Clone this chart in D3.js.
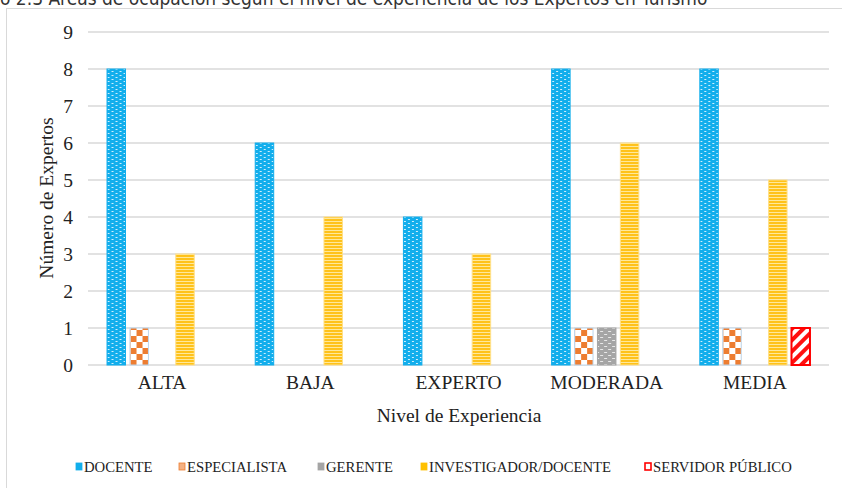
<!DOCTYPE html>
<html><head><meta charset="utf-8">
<script src="https://cdn.jsdelivr.net/npm/d3@7"></script>
<style>body{margin:0;background:#fff;overflow:hidden}svg{display:block}</style>
</head><body>
<svg id="chart" width="842" height="488"></svg>
<script>
const titleText = "Gráfico 2.3 Áreas de ocupación según el nivel de experiencia de los Expertos en Turismo";
const categories = ["ALTA", "BAJA", "EXPERTO", "MODERADA", "MEDIA"];
const seriesNames = ["DOCENTE", "ESPECIALISTA", "GERENTE", "INVESTIGADOR/DOCENTE", "SERVIDOR PÚBLICO"];
const docente = [8, 6, 4, 8, 8];
const especialista = [1, 0, 0, 1, 1];
const gerente = [0, 0, 0, 1, 0];
const investigador = [3, 4, 3, 6, 5];
const servidor = [0, 0, 0, 0, 1];
const yTicks = [0, 1, 2, 3, 4, 5, 6, 7, 8, 9];

const seriesValues = [docente, especialista, gerente, investigador, servidor];
const svg = d3.select("#chart");
const defs = svg.append("defs");
const AXF = 19.5;

function pat(id, w, h) {
  return defs.append("pattern").attr("id", id).attr("patternUnits", "userSpaceOnUse")
    .attr("width", w).attr("height", h);
}
let p = pat("pDoc", 8, 8);
p.append("rect").attr("width", 8).attr("height", 8).attr("fill", "#12AEEC");
[[1,1],[5,3],[1,5],[5,7]].forEach(([x,y]) => p.append("rect").attr("x", x).attr("y", y).attr("width", 2).attr("height", 1).attr("fill", "#cfeefc"));
p = pat("pEsp", 12, 12);
p.append("rect").attr("width", 12).attr("height", 12).attr("fill", "#fff");
p.append("rect").attr("width", 6).attr("height", 6).attr("fill", "#ED7D31");
p.append("rect").attr("x", 6).attr("y", 6).attr("width", 6).attr("height", 6).attr("fill", "#ED7D31");
p = pat("pGer", 8, 6);
p.append("rect").attr("width", 8).attr("height", 6).attr("fill", "#A5A5A5");
p.append("rect").attr("x", 1).attr("y", 1).attr("width", 3).attr("height", 1).attr("fill", "#e8e8e8");
p.append("rect").attr("x", 5).attr("y", 4).attr("width", 3).attr("height", 1).attr("fill", "#e8e8e8");
p = pat("pInv", 8, 3);
p.append("rect").attr("width", 8).attr("height", 3).attr("fill", "#FFE89A");
p.append("rect").attr("y", 0).attr("width", 8).attr("height", 2).attr("fill", "#FFC21A");
p = pat("pSer", 8, 8).attr("patternTransform", "rotate(45)");
p.append("rect").attr("width", 8).attr("height", 8).attr("fill", "#fff");
p.append("rect").attr("width", 4).attr("height", 8).attr("fill", "#FF1010");

const fills = ["url(#pDoc)", "url(#pEsp)", "url(#pGer)", "url(#pInv)", "url(#pSer)"];
const strokes = ["#12AEEC", "#BDD7EE", "#A5A5A5", "#FFE089", "#FF0000"];
const swatch = ["#12AEEC", "#ED7D31", "#A5A5A5", "#FFC000", "#FF0000"];
const swFill = ["#12AEEC", "#F4B183", "#A5A5A5", "#FFC000", "#fff"];

// chart border
svg.append("rect").attr("x", 6.5).attr("y", 8.5).attr("width", 900).attr("height", 600)
  .attr("fill", "none").attr("stroke", "#D9D9D9").attr("stroke-width", 1);

// title (cut off at top-left as in the reference)
const title = svg.append("text").attr("y", 5).attr("font-family", "DejaVu Sans Condensed, DejaVu Sans, sans-serif")
  .attr("font-size", 14).attr("fill", "#333").text(titleText);
const fullW = title.node().getComputedTextLength();
const prefW = title.node().getSubStringLength(0, 6);
const scale = 708 / (fullW - prefW);
title.attr("font-size", 14 * scale);
title.attr("x", -title.node().getSubStringLength(0, 6));

const x0 = d3.scaleBand().domain(categories).range([88, 829]).paddingInner(0.25).paddingOuter(0.125);
const x1 = d3.scaleBand().domain(seriesNames).range([0, x0.bandwidth()]).paddingInner(0.15);
const y = d3.scaleLinear().domain([0, 9]).range([365, 32]);

// gridlines
svg.append("g").selectAll("line").data(yTicks).join("line")
  .attr("x1", 88).attr("x2", 829).attr("y1", d => y(d)).attr("y2", d => y(d))
  .attr("stroke", "#D9D9D9").attr("stroke-width", 1.5);

// y axis
const yAxis = svg.append("g").attr("transform", "translate(73,0)")
  .call(d3.axisLeft(y).tickValues(yTicks).tickSize(0).tickPadding(0));
yAxis.select(".domain").remove();
yAxis.selectAll("text").attr("font-family", "Liberation Serif, serif").attr("font-size", AXF).attr("fill", "#222");

// bars
const groups = svg.append("g").selectAll("g").data(categories).join("g")
  .attr("transform", d => `translate(${x0(d)},0)`);
groups.selectAll("rect").data((c, ci) => seriesNames.map((s, si) => ({s, si, v: seriesValues[si][ci]})).filter(d => d.v > 0))
  .join("rect")
  .attr("x", d => x1(d.s) + 0.5).attr("width", x1.bandwidth() - 1)
  .attr("y", d => y(d.v)).attr("height", d => y(0) - y(d.v))
  .attr("fill", d => fills[d.si]).attr("stroke", d => strokes[d.si])
  .attr("stroke-width", d => d.si === 4 ? 2 : 1);

// x axis
const xAxis = svg.append("g").attr("transform", "translate(0,373)")
  .call(d3.axisBottom(x0).tickSize(0).tickPadding(0));
xAxis.select(".domain").remove();
xAxis.selectAll("text").attr("font-family", "Liberation Serif, serif").attr("font-size", AXF).attr("fill", "#222").attr("dy", "0.8em");

// axis titles
svg.append("text").attr("x", 459).attr("y", 422).attr("text-anchor", "middle")
  .attr("font-family", "Liberation Serif, serif").attr("font-size", AXF).attr("fill", "#222").text("Nivel de Experiencia");
svg.append("text").attr("transform", "translate(53,198) rotate(-90)").attr("text-anchor", "middle")
  .attr("font-family", "Liberation Serif, serif").attr("font-size", AXF).attr("fill", "#222").text("Número de Expertos");

// legend
const legendX = [76, 179, 318, 421, 645];
const leg = svg.append("g").selectAll("g").data(seriesNames).join("g")
  .attr("transform", (d, i) => `translate(${legendX[i]},463)`);
leg.append("rect").attr("width", 6).attr("height", 7).attr("y", 0)
  .attr("fill", (d, i) => swFill[i]).attr("stroke", (d, i) => swatch[i]).attr("stroke-width", (d,i)=> i===4?1.6:0.8);
leg.append("text").attr("x", 8).attr("y", 9).attr("font-family", "Liberation Serif, serif")
  .attr("font-size", 14.7).attr("fill", "#222").text(d => d);
</script>
</body></html>
